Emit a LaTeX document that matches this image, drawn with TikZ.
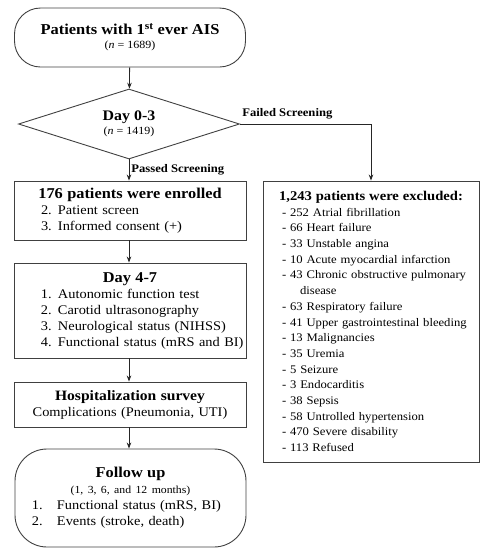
\documentclass[tikz,border=0pt]{standalone}
\usepackage{fontspec}
\setmainfont[FakeStretch=1.09]{Liberation Serif}
\usetikzlibrary{shapes.geometric,arrows.meta}
\newcommand{\numline}[4]{\hspace*{#1}\makebox[#2][l]{#3}\mbox{#4}}
\newcommand{\ttl}[2]{\makebox[\linewidth]{\bfseries\fontsize{#1}{16}\selectfont #2}}
\begin{document}
\begin{tikzpicture}[x=1pt,y=-1pt,
    every node/.style={font=\fontsize{13.2}{16}\selectfont},
    box/.style={draw=black!75, line width=0.9pt, inner xsep=0pt, inner ysep=2pt, align=left},
    term/.style={draw=black!75, line width=0.9pt, rounded corners=26pt, align=center},
    decision/.style={diamond, aspect=3.16, draw=black!75, line width=0.9pt, inner sep=0pt,
      minimum width=221pt, minimum height=70pt, align=center},
    line/.style={draw=black!85, line width=0.8pt, -{Stealth[length=6pt,width=4.5pt]}},
    lbl/.style={font=\bfseries\fontsize{11.6}{12}\selectfont, inner sep=2pt}]
  \useasboundingbox (0,0) rectangle (487,550);
  % left column
  \node[term, minimum width=231pt, minimum height=59pt] (start) at (130,37.5)
    {{\bfseries\fontsize{15.1}{16}\selectfont Patients with 1\textsuperscript{st} ever AIS}\\[-2pt]
     {\fontsize{11}{12}\selectfont (\textit{n} = 1689)}};
  \node[decision] (screen) at (129,124)
    {{\bfseries\fontsize{14.6}{16}\selectfont Day 0-3}\\[-2pt]
     {\fontsize{11}{12}\selectfont (\textit{n} = 1419)}};
  \node[box, text width=232pt, minimum height=59pt] (enrolled) at (130,210.5)
    {\ttl{15}{176 patients were enrolled}\\
     \numline{27pt}{17pt}{2.}{Patient screen}\\
     \numline{27pt}{17pt}{3.}{Informed consent (+)}};
  \node[box, text width=232pt, minimum height=95pt] (day47) at (130,310.5)
    {\ttl{15}{Day 4-7}\\
     \numline{27pt}{17pt}{1.}{Autonomic function test}\\
     \numline{27pt}{17pt}{2.}{Carotid ultrasonography}\\
     \numline{27pt}{17pt}{3.}{Neurological status (NIHSS)}\\
     \numline{27pt}{17pt}{4.}{Functional status (mRS and BI)}};
  \node[box, text width=232pt, minimum height=45pt, align=center] (hosp) at (130,404.5)
    {{\bfseries\fontsize{14.3}{16}\selectfont Hospitalization survey}\\
     Complications (Pneumonia, UTI)};
  \node[term, text width=231pt, inner xsep=0pt, minimum height=98pt, rounded corners=32pt, align=left]
    (follow) at (130.5,498)
    {\ttl{15}{Follow up}\\
     \makebox[\linewidth]{\fontsize{10.8}{12}\selectfont (1, 3, 6, and 12 months)}\\
     \numline{17pt}{25pt}{1.}{Functional status (mRS, BI)}\\
     \numline{17pt}{25pt}{2.}{Events (stroke, death)}};
  % excluded
  \node[box, text width=216pt, minimum height=281pt,
        font=\fontsize{11.6}{15.7}\selectfont] (excluded) at (371,321.5)
    {\ttl{13.4}{1,243 patients were excluded:}\\
     \hspace*{19pt}- 252 Atrial fibrillation\\
     \hspace*{19pt}- 66 Heart failure\\
     \hspace*{19pt}- 33 Unstable angina\\
     \hspace*{19pt}- 10 Acute myocardial infarction\\
     \hspace*{19pt}- 43 Chronic obstructive pulmonary\\
     \hspace*{37pt}disease\\
     \hspace*{19pt}- 63 Respiratory failure\\
     \hspace*{19pt}- 41 Upper gastrointestinal bleeding\\
     \hspace*{19pt}- 13 Malignancies\\
     \hspace*{19pt}- 35 Uremia\\
     \hspace*{19pt}- 5 Seizure\\
     \hspace*{19pt}- 3 Endocarditis\\
     \hspace*{19pt}- 38 Sepsis\\
     \hspace*{19pt}- 58 Untrolled hypertension\\
     \hspace*{19pt}- 470 Severe disability\\
     \hspace*{19pt}- 113 Refused};
  % connectors
  \draw[line] (start) -- (screen);
  \draw[line] (screen.south) -- node[lbl, right] {Passed Screening} (enrolled.north -| screen.south);
  \draw[line] (screen.east) -| node[lbl, pos=0, anchor=south west, yshift=3pt] {Failed Screening} (excluded.north);
  \draw[line] (enrolled.south -| screen.south) -- (day47.north -| screen.south);
  \draw[line] (day47.south -| screen.south) -- (hosp.north -| screen.south);
  \draw[line] (hosp.south -| screen.south) -- (follow.north -| screen.south);
\end{tikzpicture}
\end{document}
